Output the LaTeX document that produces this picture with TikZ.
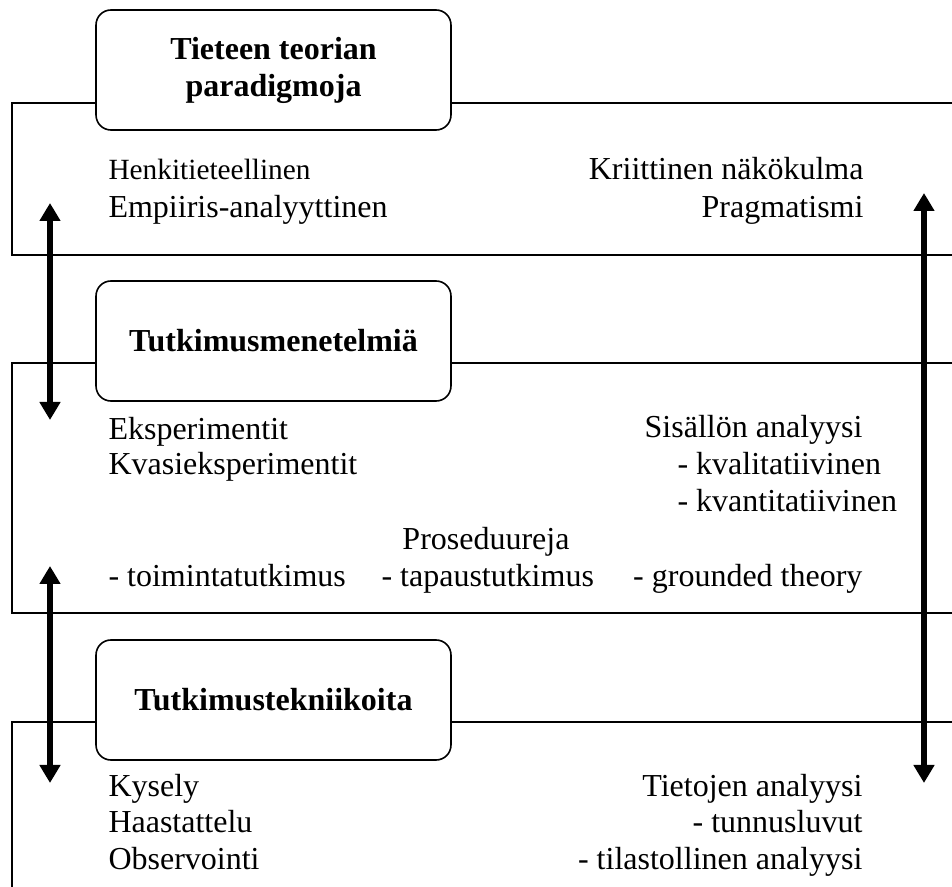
\documentclass[tikz,border=0pt]{standalone}
\usepackage{fontspec}
\setmainfont{Liberation Serif}
\usetikzlibrary{arrows.meta}

\begin{document}
\begin{tikzpicture}[x=0.375pt, y=-0.375pt,
  frame/.style={draw, line width=0.6pt},
  titlebox/.style={draw, line width=0.6pt, fill=white, rounded corners=5.6pt,
    minimum width=133.1pt, minimum height=45pt, align=center,
    font=\fontsize{12}{13.9}\selectfont\bfseries},
  txt/.style={inner sep=0pt, font=\fontsize{12}{13.9}\selectfont},
  lt/.style={txt, anchor=base west},
  rt/.style={txt, anchor=base east},
  bigarrow/.style={line width=2.2pt, {Triangle[width=7.5pt,length=6.75pt]}-{Triangle[width=7.5pt,length=6.75pt]}}
]
\useasboundingbox (0,0) rectangle (952,887);
\clip (0,0) rectangle (952,887);

% three open-ended frames
\draw[frame] (12,103) rectangle (1000,255);
\draw[frame] (12,363) rectangle (1000,613);
\draw[frame] (12,722) rectangle (1000,1000);

% headings
\node[titlebox] (t1) at (273.5,70) {Tieteen teorian\\paradigmoja};
\node[titlebox] (t2) at (273.5,341) {Tutkimusmenetelmiä};
\node[titlebox] (t3) at (273.5,700) {Tutkimustekniikoita};

% paradigms
\node[lt, font=\fontsize{11}{13}\selectfont] (p1) at (108,180) {Henkitieteellinen};
\node[lt] (p2) at (108,218) {Empiiris-analyyttinen};
\node[rt] (p3) at (864,180) {Kriittinen näkökulma};
\node[rt] (p4) at (864,218) {Pragmatismi};

% methods
\node[lt] (m1) at (108,440) {Eksperimentit};
\node[lt] (m2) at (108,475) {Kvasieksperimentit};
\node[rt] (m3) at (863,438) {Sisällön analyysi};
\node[lt] (m4) at (677,475) {- kvalitatiivinen};
\node[lt] (m5) at (677,512) {- kvantitatiivinen};
\node[txt, anchor=base] (m6) at (486,550) {Proseduureja};
\node[lt] (m7) at (108,587) {- toimintatutkimus};
\node[lt] (m8) at (381,587) {- tapaustutkimus};
\node[rt] (m9) at (863,587) {- grounded theory};

% techniques
\node[lt] (k1) at (108,797) {Kysely};
\node[lt] (k2) at (108,833) {Haastattelu};
\node[lt] (k3) at (108,870) {Observointi};
\node[rt] (k4) at (863,797) {Tietojen analyysi};
\node[rt] (k5) at (863,833) {- tunnusluvut};
\node[rt] (k6) at (863,870) {- tilastollinen analyysi};

% arrow end points
\coordinate (a1top) at (50,203);
\coordinate (a1bot) at (50,420);
\coordinate (a2top) at (50,566);
\coordinate (a2bot) at (50,783);
\coordinate (a3top) at (924,193);
\coordinate (a3bot) at (924,783);

\draw[bigarrow] (a1top) -- (a1bot);
\draw[bigarrow] (a2top) -- (a2bot);
\draw[bigarrow] (a3top) -- (a3bot);
\end{tikzpicture}
\end{document}
